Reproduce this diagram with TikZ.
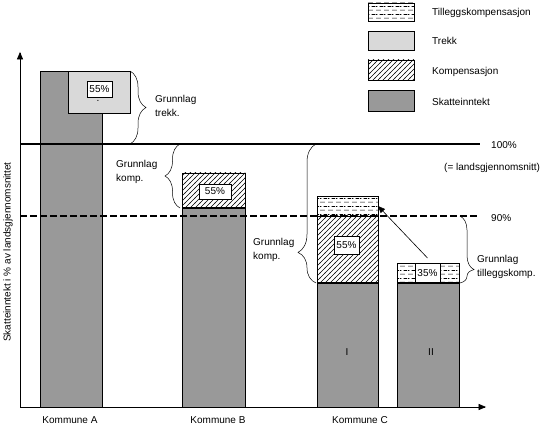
\documentclass[tikz,border=0pt]{standalone}
\usepackage{fontspec}
\setmainfont{Liberation Sans}
\usepackage{tikz}
\usetikzlibrary{calc,positioning,arrows,patterns,decorations.pathreplacing}

% hatching for Kompensasjon
\pgfdeclarepatternformonly{hatch}{\pgfqpoint{-1pt}{-1pt}}{\pgfqpoint{6pt}{6pt}}{\pgfqpoint{5pt}{5pt}}{%
\pgfsetlinewidth{0.45pt}
\pgfpathmoveto{\pgfqpoint{-0.5pt}{-0.5pt}}\pgfpathlineto{\pgfqpoint{5.5pt}{5.5pt}}
\pgfusepath{stroke}}
% dashed rows for Tilleggskompensasjon
\pgfdeclarepatternformonly{dashrows}{\pgfqpoint{0pt}{0pt}}{\pgfqpoint{8pt}{8pt}}{\pgfqpoint{8pt}{8pt}}{%
\pgfsetlinewidth{0.7pt}
\pgfpathmoveto{\pgfqpoint{0pt}{2pt}}\pgfpathlineto{\pgfqpoint{5.5pt}{2pt}}
\pgfpathmoveto{\pgfqpoint{4pt}{6pt}}\pgfpathlineto{\pgfqpoint{8pt}{6pt}}
\pgfpathmoveto{\pgfqpoint{0pt}{6pt}}\pgfpathlineto{\pgfqpoint{1.5pt}{6pt}}
\pgfusepath{stroke}}

\begin{document}
\begin{tikzpicture}[x=1pt,y=-1pt,font=\fontsize{10}{14}\selectfont]
\tikzstyle{blk} = [draw, inner sep = 0pt, outer sep = 0pt, line width = 0.6pt];
\tikzstyle{skatt} = [blk, fill = black!40];
\tikzstyle{trekk} = [blk, fill = black!15];
\tikzstyle{komp} = [blk, pattern = hatch];
\tikzstyle{tillegg} = [blk, pattern = dashrows];
\tikzstyle{pct} = [blk, fill = white, inner sep = 1pt];
\tikzstyle{txt} = [inner sep = 0pt, anchor = west, align = left];
\tikzstyle{brc} = [decorate, line width = 0.5pt];
\useasboundingbox (0,0) rectangle (550,428);

% axes
\coordinate (O) at (20,407);
\coordinate (ytop) at (20,52);
\coordinate (xend) at (486,407);
\draw[line width = 0.7pt, -triangle 45] (O) -- (ytop);
\draw[line width = 0.7pt, -triangle 45] (O) -- (xend);
\node[rotate = 90] (ylab) at (8,252) {Skatteinntekt i \% av landsgjennomsnittet};

% legend
\node[tillegg, minimum width = 46pt, minimum height = 18pt] (lg1) at (391,12) {};
\node[trekk, minimum width = 46pt, minimum height = 19pt] (lg2) at (391,40.5) {};
\node[komp, minimum width = 46pt, minimum height = 20pt] (lg3) at (391,70) {};
\node[skatt, minimum width = 46pt, minimum height = 21pt] (lg4) at (391,100.5) {};
\node[txt] (lt1) at (432,13) {Tilleggskompensasjon};
\node[txt] (lt2) at (432,41) {Trekk};
\node[txt] (lt3) at (432,72) {Kompensasjon};
\node[txt] (lt4) at (432,102) {Skatteinntekt};

% Kommune A
\node[skatt, minimum width = 62pt, minimum height = 336pt, anchor = north west] (A) at (40,71) {};
\node[trekk, minimum width = 62pt, minimum height = 42pt, anchor = north west] (trekkA) at (68,71) {};
\node[pct, minimum width = 25pt, minimum height = 16pt] (pA) at (99.5,89) {55\%};
\node[inner sep = 0pt] (dotA) at (98,101) {.};

% Kommune B
\node[skatt, minimum width = 63pt, minimum height = 199pt, anchor = north west] (B) at (182,208) {};
\node[komp, minimum width = 63pt, minimum height = 35pt, anchor = south west] (kompB) at (B.north west) {};
\node[pct, minimum width = 32pt, minimum height = 15pt] (pB) at (215,191.5) {55\%};

% Kommune C
\node[skatt, minimum width = 61pt, minimum height = 124pt, anchor = north west] (CI) at (317,283) {};
\node[komp, minimum width = 61pt, minimum height = 67pt, anchor = south west] (kompCI) at (CI.north west) {};
\node[tillegg, minimum width = 61pt, minimum height = 20pt, anchor = south west] (tillCI) at (kompCI.north west) {};
\node[pct, minimum width = 25pt, minimum height = 18pt] (pCI) at (346.5,245) {55\%};
\node[skatt, minimum width = 62pt, minimum height = 124pt, anchor = north west] (CII) at (397,283) {};
\node[tillegg, minimum width = 62pt, minimum height = 20pt, anchor = south west] (tillCII) at (CII.north west) {};
\node[pct, minimum width = 25pt, minimum height = 20pt, anchor = south] (pCII) at (427.5,283) {35\%};
\draw[line width = 1.3pt] (B.north west) -- (B.north east);
\draw[line width = 1.3pt] (CI.north west) -- (CI.north east);
\draw[line width = 1.3pt] (CII.north west) -- (CII.north east);
\node (nI) at (347,352) {I};
\node (nII) at (431,352) {II};

% levels
\coordinate (lvl100) at (20,144);
\coordinate (end100) at (480,144);
\coordinate (lvl90) at (20,216);
\coordinate (end90) at (480,216);
\draw[line width = 2pt] (lvl100) -- (end100);
\draw[line width = 2.6pt, dash pattern = on 6.5pt off 3.5pt] (lvl90) -- (end90);
\node[txt] (t100) at (491,145) {100\%};
\node[txt] (tavg) at (444,168) {(= landsgjennomsnitt)};
\node[txt] (t90) at (491,218) {90\%};

% braces
\draw[brc, decoration = {brace, amplitude = 16pt}] (trekkA.north east) -- (trekkA.north east |- lvl100);
\draw[brc, decoration = {brace, amplitude = 15pt}] ([xshift = -2pt]B.north west) -- ([xshift = -2pt]B.north west |- lvl100);
\draw[brc, decoration = {brace, amplitude = 18pt, aspect = 0.22}] ([xshift = -1pt]CI.north west) -- ([xshift = -1pt]CI.north west |- lvl100);
\draw[brc, decoration = {brace, amplitude = 14pt, aspect = 0.8}] ([xshift = 1pt]CII.north east |- lvl90) -- ([xshift = 1pt]CII.north east);
\node[txt] (gtrekk) at (155,106) {Grunnlag\\trekk.};
\node[txt] (gkompB) at (116,172) {Grunnlag\\komp.};
\node[txt] (gkompC) at (253,250) {Grunnlag\\komp.};
\node[txt] (gtill) at (477,267) {Grunnlag\\tilleggskomp.};

% arrow
\draw[line width = 0.6pt, -triangle 45] ([yshift = 5pt]pCII.north) -- (tillCI.east);

% x labels
\node (kA) at (70,420) {Kommune A};
\node (kB) at (218,420) {Kommune B};
\node (kC) at (360,420) {Kommune C};
\end{tikzpicture}
\end{document}
